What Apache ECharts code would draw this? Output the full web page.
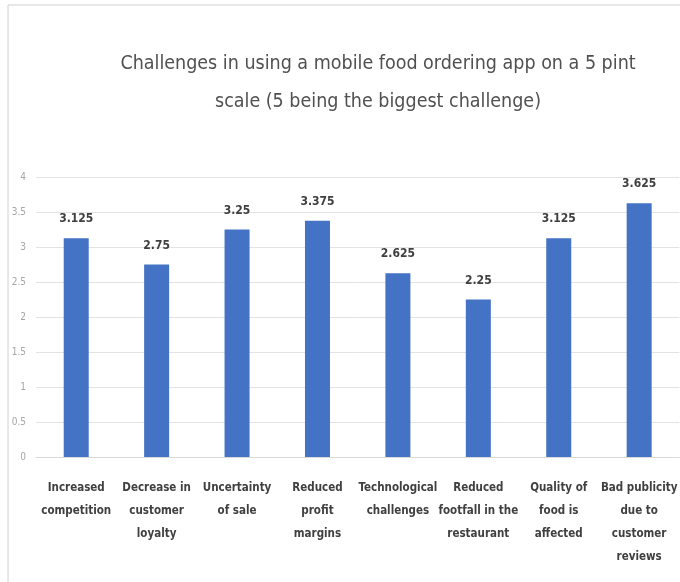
<!DOCTYPE html>
<html>
<head>
<meta charset="utf-8">
<script src="https://cdn.jsdelivr.net/npm/echarts@6/dist/echarts.min.js"></script>
<style>
  html, body { margin: 0; padding: 0; background: #ffffff; overflow: hidden; }
  #chart { width: 680px; height: 582px; }
</style>
</head>
<body>
<div id="chart"></div>
<script>
// Survey categories and their mean challenge scores (5-point scale)
const categories = [
  'Increased\ncompetition',
  'Decrease in\ncustomer\nloyalty',
  'Uncertainty\nof sale',
  'Reduced\nprofit\nmargins',
  'Technological\nchallenges',
  'Reduced\nfootfall in the\nrestaurant',
  'Quality of\nfood is\naffected',
  'Bad publicity\ndue to\ncustomer\nreviews'
];
const scores = [3.125, 2.75, 3.25, 3.375, 2.625, 2.25, 3.125, 3.625];
const titleText = 'Challenges in using a mobile food ordering app on a 5 pint\nscale (5 being the biggest challenge)';

const narrow = "'Liberation Sans Narrow', 'DejaVu Sans Condensed', sans-serif";

const chart = echarts.init(document.getElementById('chart'), null, { renderer: 'canvas' });
chart.setOption({
  backgroundColor: '#ffffff',
  animation: false,
  graphic: [
    // thin frame along the top and left edges
    { type: 'line', shape: { x1: 8, y1: 5, x2: 680, y2: 5 }, style: { stroke: '#d0d0d0', lineWidth: 1 } },
    { type: 'line', shape: { x1: 8, y1: 5, x2: 8, y2: 582 }, style: { stroke: '#d0d0d0', lineWidth: 1 } }
  ],
  title: {
    text: titleText,
    left: 373,
    top: 40,
    textAlign: 'center',
    textStyle: {
      fontFamily: narrow,
      fontSize: 19.5,
      fontWeight: 'normal',
      color: '#505050',
      lineHeight: 38
    }
  },
  grid: { left: 36, right: -6, top: 177, bottom: 125, containLabel: false },
  xAxis: {
    type: 'category',
    data: categories,
    axisLine: { show: true, lineStyle: { color: '#d9d9d9' } },
    axisTick: { show: false },
    axisLabel: {
      interval: 0,
      margin: 20,
      fontFamily: narrow,
      fontSize: 11.5,
      fontWeight: 'bold',
      lineHeight: 23,
      color: '#404040'
    }
  },
  yAxis: {
    type: 'value',
    min: 0,
    max: 4,
    interval: 0.5,
    axisLine: { show: false },
    axisTick: { show: false },
    axisLabel: { fontFamily: narrow, fontSize: 10, color: '#a6a6a6', margin: 10 },
    splitLine: { lineStyle: { color: '#e3e3e3' } }
  },
  series: [{
    type: 'bar',
    data: scores,
    barWidth: 25,
    itemStyle: { color: '#4472c4' },
    label: {
      show: true,
      position: 'top',
      distance: 13,
      fontFamily: narrow,
      fontSize: 12,
      fontWeight: 'bold',
      color: '#404040'
    }
  }]
});
</script>
</body>
</html>
